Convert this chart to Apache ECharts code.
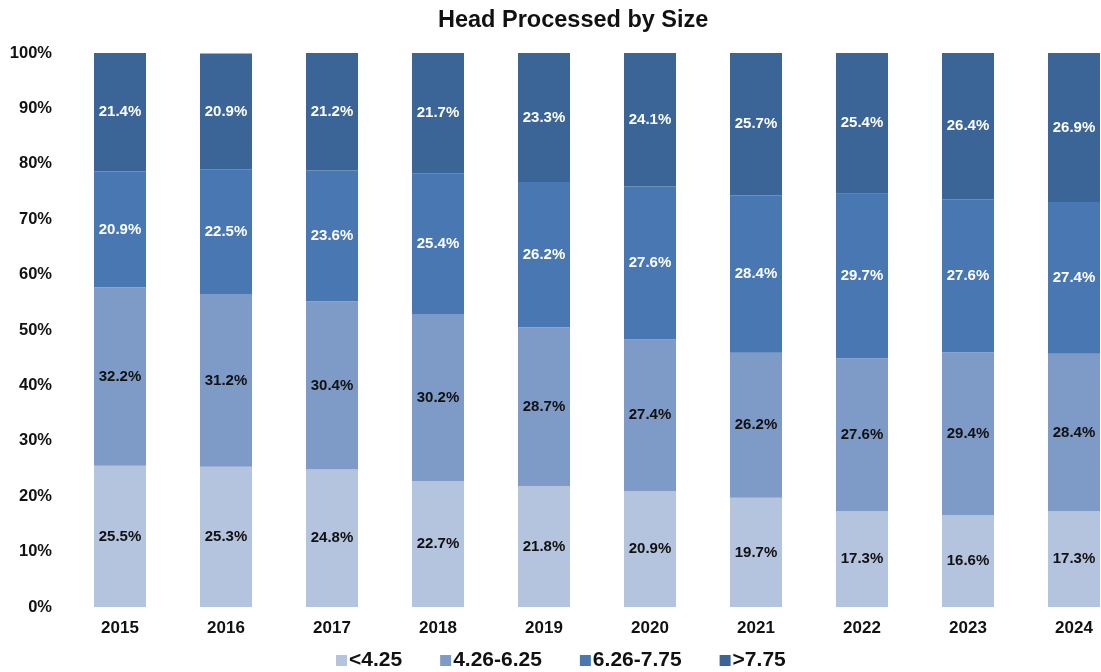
<!DOCTYPE html>
<html>
<head>
<meta charset="utf-8">
<script src="https://cdn.jsdelivr.net/npm/echarts@6/dist/echarts.min.js"></script>
<style>
  html, body { margin: 0; padding: 0; background: #fff; }
  #chart { width: 1101px; height: 672px; }
</style>
</head>
<body>
<div id="chart"></div>
<script>
// Share of head processed by size class, percent of yearly total
const years = ['2015', '2016', '2017', '2018', '2019', '2020', '2021', '2022', '2023', '2024'];
const sizeLt425 = [25.5, 25.3, 24.8, 22.7, 21.8, 20.9, 19.7, 17.3, 16.6, 17.3];
const size426to625 = [32.2, 31.2, 30.4, 30.2, 28.7, 27.4, 26.2, 27.6, 29.4, 28.4];
const size626to775 = [20.9, 22.5, 23.6, 25.4, 26.2, 27.6, 28.4, 29.7, 27.6, 27.4];
const sizeGt775 = [21.4, 20.9, 21.2, 21.7, 23.3, 24.1, 25.7, 25.4, 26.4, 26.9];
const yTicks = [0, 10, 20, 30, 40, 50, 60, 70, 80, 90, 100];

const FONT = 'Liberation Sans, Arial, sans-serif';
const seriesDefs = [
  { name: '<4.25', data: sizeLt425, color: '#b4c3de', text: '#111' },
  { name: '4.26-6.25', data: size426to625, color: '#7e9bc8', text: '#111' },
  { name: '6.26-7.75', data: size626to775, color: '#4877b2', text: '#fff' },
  { name: '>7.75', data: sizeGt775, color: '#3b6497', text: '#fff' }
];

const chart = echarts.init(document.getElementById('chart'));
chart.setOption({
  animation: false,
  backgroundColor: '#fff',
  title: {
    text: 'Head Processed by Size',
    left: 433,
    top: 4,
    textStyle: { fontFamily: FONT, fontSize: 23.5, fontWeight: 'bold', color: '#111' }
  },
  legend: {
    left: 331,
    top: 645,
    itemWidth: 11,
    itemHeight: 11,
    itemGap: 38,
    icon: 'rect',
    textStyle: { fontFamily: FONT, fontSize: 21, fontWeight: 'bold', color: '#111', padding: [0, 0, 0, -3] },
    data: seriesDefs.map(s => s.name)
  },
  // the plot runs past the right edge so the last bar is cut off
  grid: { left: 67, width: 1060, top: 53, height: 554, containLabel: false, outerBoundsMode: 'none' },
  xAxis: {
    type: 'category',
    data: years,
    axisLine: { show: false },
    axisTick: { show: false },
    axisLabel: { fontFamily: FONT, fontSize: 17, fontWeight: 'bold', color: '#111', margin: 13 }
  },
  yAxis: {
    type: 'value',
    min: yTicks[0],
    max: yTicks[yTicks.length - 1],
    interval: 10,
    splitLine: { show: false },
    axisLine: { show: false },
    axisTick: { show: false },
    axisLabel: {
      fontFamily: FONT, fontSize: 16.5, fontWeight: 'bold', color: '#111', margin: 15,
      formatter: v => v + '%'
    }
  },
  series: seriesDefs.map(s => ({
    name: s.name,
    type: 'bar',
    stack: 'share',
    barWidth: 52,
    data: s.data,
    itemStyle: { color: s.color },
    label: {
      show: true,
      position: 'inside',
      fontFamily: FONT,
      fontSize: 15,
      fontWeight: 'bold',
      color: s.text,
      formatter: p => p.value.toFixed(1) + '%'
    }
  }))
});
</script>
</body>
</html>
